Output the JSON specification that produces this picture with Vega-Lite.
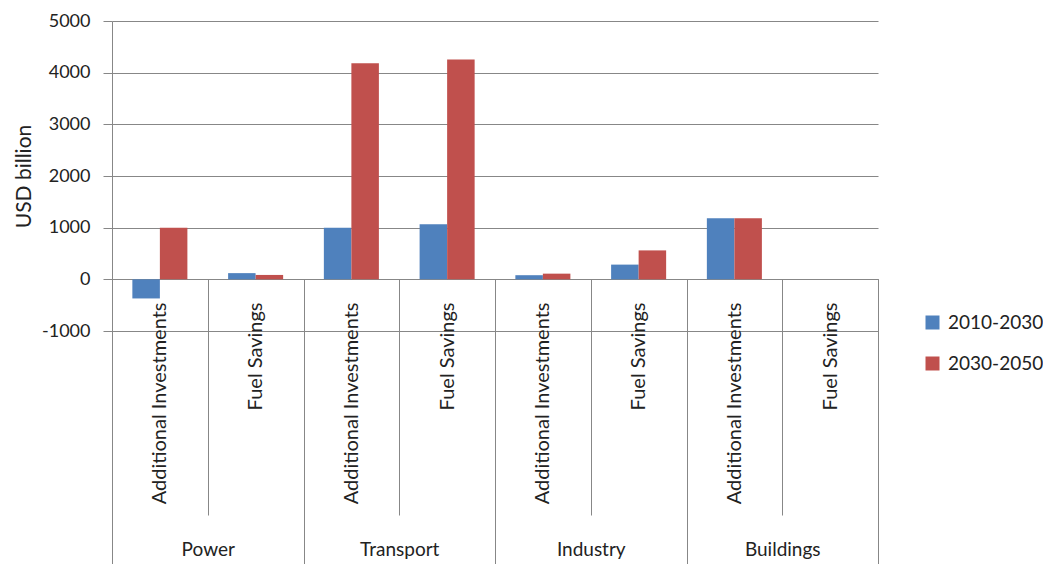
{
  "$schema": "https://vega.github.io/schema/vega-lite/v6.json",
  "width": 766,
  "height": 310,
  "autosize": {"type": "none"},
  "padding": {"left": 112, "top": 21, "right": 165, "bottom": 233},
  "background": "white",
  "config": {
    "view": {"stroke": null},
    "font": "Lato",
    "axis": {"labelFont": "Lato", "titleFont": "Lato", "labelColor": "#222222", "titleColor": "#222222"}
  },
  "data": {
    "values": [
      {"sector": "Power", "item": "Additional Investments", "key": "Power|Additional Investments", "period": "2010-2030", "value": -370},
      {"sector": "Power", "item": "Additional Investments", "key": "Power|Additional Investments", "period": "2030-2050", "value": 1000},
      {"sector": "Power", "item": "Fuel Savings", "key": "Power|Fuel Savings", "period": "2010-2030", "value": 120},
      {"sector": "Power", "item": "Fuel Savings", "key": "Power|Fuel Savings", "period": "2030-2050", "value": 85},
      {"sector": "Transport", "item": "Additional Investments", "key": "Transport|Additional Investments", "period": "2010-2030", "value": 1000},
      {"sector": "Transport", "item": "Additional Investments", "key": "Transport|Additional Investments", "period": "2030-2050", "value": 4180},
      {"sector": "Transport", "item": "Fuel Savings", "key": "Transport|Fuel Savings", "period": "2010-2030", "value": 1065},
      {"sector": "Transport", "item": "Fuel Savings", "key": "Transport|Fuel Savings", "period": "2030-2050", "value": 4255},
      {"sector": "Industry", "item": "Additional Investments", "key": "Industry|Additional Investments", "period": "2010-2030", "value": 80},
      {"sector": "Industry", "item": "Additional Investments", "key": "Industry|Additional Investments", "period": "2030-2050", "value": 110},
      {"sector": "Industry", "item": "Fuel Savings", "key": "Industry|Fuel Savings", "period": "2010-2030", "value": 285},
      {"sector": "Industry", "item": "Fuel Savings", "key": "Industry|Fuel Savings", "period": "2030-2050", "value": 560},
      {"sector": "Buildings", "item": "Additional Investments", "key": "Buildings|Additional Investments", "period": "2010-2030", "value": 1180},
      {"sector": "Buildings", "item": "Additional Investments", "key": "Buildings|Additional Investments", "period": "2030-2050", "value": 1180},
      {"sector": "Buildings", "item": "Fuel Savings", "key": "Buildings|Fuel Savings", "period": "2010-2030", "value": null},
      {"sector": "Buildings", "item": "Fuel Savings", "key": "Buildings|Fuel Savings", "period": "2030-2050", "value": null}
    ]
  },
  "layer": [
    {
      "mark": {"type": "bar"},
      "encoding": {
        "x": {
          "field": "key",
          "type": "nominal",
          "sort": null,
          "scale": {
            "domain": ["Power|Additional Investments", "Power|Fuel Savings", "Transport|Additional Investments", "Transport|Fuel Savings", "Industry|Additional Investments", "Industry|Fuel Savings", "Buildings|Additional Investments", "Buildings|Fuel Savings"],
            "paddingInner": 0,
            "paddingOuter": 0
          },
          "axis": {
            "orient": "bottom",
            "offset": -52,
            "title": null,
            "grid": false,
            "domain": true,
            "domainColor": "#878787",
            "ticks": true,
            "tickBand": "extent",
            "tickSize": 236,
            "tickColor": "#878787",
            "labelAngle": -90,
            "labelPadding": -213,
            "labelFontSize": 20,
            "labelLimit": 0,
            "labelExpr": "split(datum.label, '|')[1]"
          }
        },
        "xOffset": {
          "field": "period",
          "type": "nominal",
          "scale": {"paddingOuter": 0.74, "paddingInner": 0}
        },
        "y": {
          "field": "value",
          "type": "quantitative",
          "scale": {"domain": [-1000, 5000], "nice": false, "zero": false},
          "axis": {
            "title": "USD billion",
            "titleFontSize": 21,
            "titleFontWeight": "normal",
            "titlePadding": 7,
            "values": [-1000, 0, 1000, 2000, 3000, 4000, 5000],
            "labelExpr": "toString(datum.value)",
            "grid": true,
            "gridColor": "#878787",
            "domainColor": "#878787",
            "tickColor": "#878787",
            "tickSize": 9,
            "labelFontSize": 18,
            "labelPadding": 13
          }
        },
        "color": {
          "field": "period",
          "type": "nominal",
          "scale": {"domain": ["2010-2030", "2030-2050"], "range": ["#4F81BD", "#C0504D"]},
          "legend": {
            "orient": "none",
            "legendX": 811,
            "legendY": 292,
            "title": null,
            "symbolType": "square",
            "symbolSize": 196,
            "symbolStrokeWidth": 0,
            "labelFontSize": 19,
            "labelOffset": 6,
            "labelColor": "#222222",
            "rowPadding": 21
          }
        }
      }
    },
    {
      "mark": {"type": "bar", "opacity": 0},
      "encoding": {
        "x": {
          "field": "sector",
          "type": "nominal",
          "sort": null,
          "scale": {"domain": ["Power", "Transport", "Industry", "Buildings"], "paddingInner": 0, "paddingOuter": 0},
          "axis": {
            "orient": "bottom",
            "offset": -52,
            "title": null,
            "grid": false,
            "domain": false,
            "ticks": true,
            "tickBand": "extent",
            "tickSize": 285,
            "tickColor": "#878787",
            "labelAngle": 0,
            "labelPadding": -24,
            "labelFontSize": 19
          }
        },
        "y": {"field": "value", "type": "quantitative"}
      }
    }
  ],
  "resolve": {"scale": {"x": "independent"}, "axis": {"x": "independent"}}
}
